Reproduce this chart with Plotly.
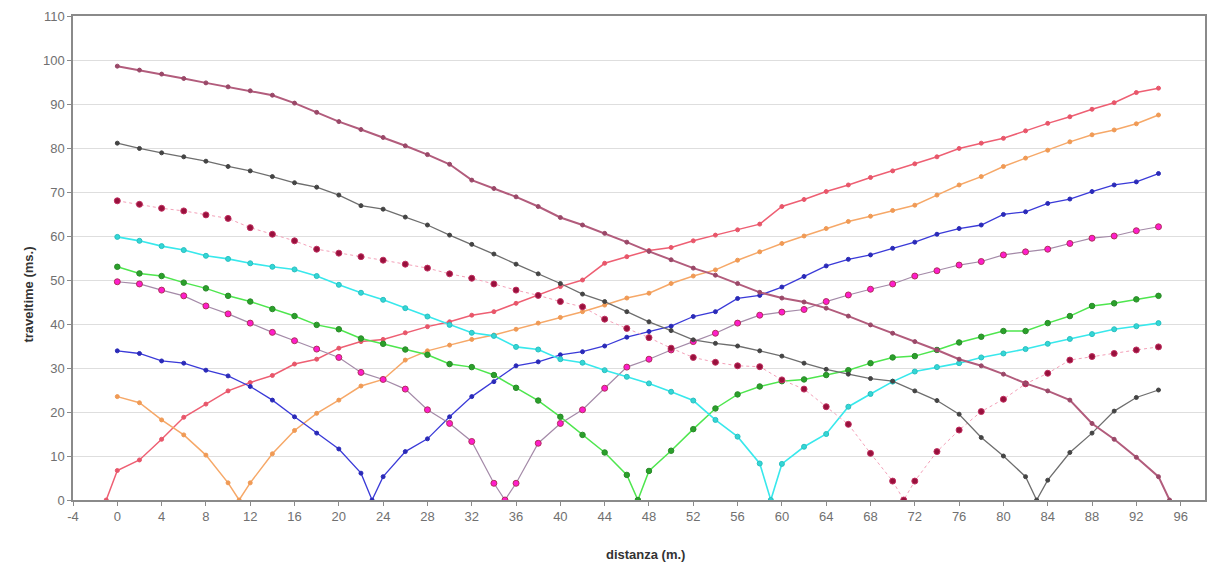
import plotly.graph_objects as go

# Geophone positions along the line (m)
geophones = list(range(0, 95, 2))

# Shot positions (m)
shots = [-1, 11, 23, 35, 47, 59, 71, 83, 95]

# Distance axis tick values and labels
x_ticks = list(range(-4, 97, 4))
x_tick_labels = [str(v) for v in x_ticks]

# First-arrival travel times (ms) at each geophone, one list per shot
tt_shot_m1 = [6.7, 9.1, 13.8, 18.8, 21.8, 24.8, 26.7, 28.3, 30.9, 32.0, 34.5, 36.0,
              36.5, 38.0, 39.4, 40.5, 42.0, 42.8, 44.7, 46.6, 48.5, 50.0, 53.8, 55.3,
              56.7, 57.4, 58.9, 60.2, 61.4, 62.7, 66.7, 68.3, 70.1, 71.6, 73.3, 74.8,
              76.4, 78.0, 79.9, 81.1, 82.2, 83.9, 85.6, 87.1, 88.8, 90.3, 92.6, 93.6]
tt_shot_11 = [23.5, 22.1, 18.2, 14.8, 10.2, 3.9, 3.9, 10.5, 15.8, 19.7, 22.7, 25.9,
              27.4, 31.8, 33.9, 35.2, 36.5, 37.5, 38.8, 40.2, 41.5, 42.8, 44.3, 45.9,
              47.0, 49.2, 50.9, 52.3, 54.5, 56.4, 58.3, 60.0, 61.7, 63.3, 64.5, 65.8,
              67.0, 69.3, 71.6, 73.5, 75.8, 77.7, 79.5, 81.4, 83.0, 84.1, 85.5, 87.5]
tt_shot_23 = [33.9, 33.3, 31.6, 31.1, 29.5, 28.2, 25.8, 22.7, 18.9, 15.2, 11.6, 6.1,
              5.3, 11.0, 13.9, 18.9, 23.5, 26.9, 30.5, 31.4, 33.0, 33.7, 35.0, 37.0,
              38.3, 39.5, 41.7, 42.8, 45.8, 46.5, 48.4, 50.8, 53.2, 54.7, 55.7, 57.2,
              58.6, 60.4, 61.7, 62.5, 64.9, 65.5, 67.4, 68.4, 70.1, 71.6, 72.3, 74.2]
tt_shot_35 = [49.6, 49.1, 47.7, 46.4, 44.1, 42.3, 40.2, 38.1, 36.2, 34.3, 32.4, 29.0,
              27.4, 25.2, 20.5, 17.4, 13.3, 3.8, 3.8, 12.9, 17.4, 20.5, 25.4, 30.2,
              32.0, 34.1, 36.0, 37.9, 40.2, 42.0, 42.7, 43.3, 45.1, 46.6, 47.9, 49.1,
              50.9, 52.1, 53.4, 54.2, 55.7, 56.4, 57.0, 58.3, 59.5, 60.0, 61.2, 62.1]
tt_shot_47 = [53.0, 51.5, 50.9, 49.4, 48.1, 46.4, 45.1, 43.4, 41.8, 39.8, 38.8, 36.7,
              35.5, 34.2, 33.0, 30.9, 30.2, 28.4, 25.5, 22.6, 18.9, 14.8, 10.8, 5.7,
              6.6, 11.2, 16.1, 20.8, 24.0, 25.8, 27.0, 27.4, 28.4, 29.5, 31.1, 32.4,
              32.7, 34.1, 35.8, 37.1, 38.4, 38.4, 40.2, 41.8, 44.1, 44.7, 45.6, 46.4]
tt_shot_59 = [59.8, 58.9, 57.7, 56.8, 55.5, 54.8, 53.8, 53.0, 52.4, 50.9, 48.9, 47.1,
              45.5, 43.6, 41.7, 39.8, 38.0, 37.3, 34.8, 34.2, 32.0, 31.2, 29.5, 28.0,
              26.5, 24.6, 22.6, 18.2, 14.4, 8.3, 8.2, 12.1, 15.0, 21.2, 24.1, 26.9,
              29.2, 30.2, 31.1, 32.4, 33.3, 34.3, 35.5, 36.6, 37.7, 38.8, 39.5, 40.2]
tt_shot_71 = [68.0, 67.2, 66.3, 65.7, 64.8, 64.0, 61.9, 60.4, 58.9, 57.0, 56.1, 55.3,
              54.5, 53.6, 52.7, 51.4, 50.4, 49.1, 47.7, 46.5, 45.1, 43.9, 41.1, 39.0,
              36.9, 34.5, 32.4, 31.3, 30.5, 30.3, 27.3, 25.2, 21.2, 17.2, 10.6, 4.3,
              4.3, 11.0, 15.9, 20.1, 22.9, 26.4, 28.8, 31.8, 32.6, 33.3, 34.1, 34.8]
tt_shot_83 = [81.1, 79.9, 78.9, 78.0, 77.0, 75.8, 74.8, 73.5, 72.1, 71.1, 69.3, 66.9,
              66.1, 64.3, 62.5, 60.2, 58.1, 55.9, 53.6, 51.4, 49.2, 46.8, 45.1, 42.8,
              40.5, 38.5, 36.4, 35.6, 35.0, 33.9, 32.7, 31.1, 29.7, 28.6, 27.6, 27.0,
              24.8, 22.6, 19.5, 14.2, 10.0, 5.3, 4.5, 10.8, 15.2, 20.2, 23.3, 25.0]
tt_shot_95 = [98.6, 97.7, 96.8, 95.8, 94.8, 93.9, 93.0, 92.0, 90.2, 88.1, 86.0, 84.2,
              82.4, 80.5, 78.5, 76.3, 72.7, 70.8, 68.9, 66.7, 64.2, 62.5, 60.6, 58.6,
              56.5, 54.6, 52.7, 51.1, 49.2, 47.2, 45.9, 45.0, 43.6, 41.8, 39.8, 37.9,
              36.0, 34.1, 32.0, 30.5, 28.6, 26.5, 24.8, 22.7, 17.4, 13.8, 9.7, 5.3]

traveltimes = [tt_shot_m1, tt_shot_11, tt_shot_23, tt_shot_35, tt_shot_47,
               tt_shot_59, tt_shot_71, tt_shot_83, tt_shot_95]

# Per-shot drawing style: line colour, line width, dash, marker colour, marker size, marker outline
styles = [
    dict(lc="#ee5f73", lw=1.5, dash="solid", mc="#e8566a", ms=4, ml="#e8566a"),
    dict(lc="#f6a868", lw=1.5, dash="solid", mc="#f09a55", ms=4, ml="#f09a55"),
    dict(lc="#3a3ad8", lw=1.3, dash="solid", mc="#2a2ab8", ms=4, ml="#2a2ab8"),
    dict(lc="#a48aa8", lw=1.2, dash="solid", mc="#ff1ccc", ms=6, ml="#b0305a"),
    dict(lc="#4ee64e", lw=1.5, dash="solid", mc="#2aa02a", ms=5.5, ml="#2a8a2a"),
    dict(lc="#38e8ec", lw=1.6, dash="solid", mc="#33d6d6", ms=5, ml="#2ac0c0"),
    dict(lc="#f4a0b8", lw=1.0, dash="dot", mc="#98103c", ms=6, ml="#c03060"),
    dict(lc="#6e6e6e", lw=1.3, dash="solid", mc="#444444", ms=4, ml="#444444"),
    dict(lc="#b25c7c", lw=2.0, dash="solid", mc="#9a4868", ms=4, ml="#9a4868"),
]

fig = go.Figure()
for shot, tt, st in zip(shots, traveltimes, styles):
    # Each branch starts (or passes through) the shot point at zero time
    pts = sorted(list(zip(geophones, tt)) + [(shot, 0.0)])
    xs = [p[0] for p in pts]
    ys = [p[1] for p in pts]
    fig.add_trace(go.Scatter(
        x=xs, y=ys, mode="lines+markers", showlegend=False,
        line=dict(color=st["lc"], width=st["lw"], dash=st["dash"]),
        marker=dict(color=st["mc"], size=st["ms"], symbol="circle",
                    line=dict(color=st["ml"], width=1)),
        name=f"shot {shot} m"))

axis_font = dict(family="Liberation Sans, Arial, sans-serif", size=13, color="#707070")

fig.update_xaxes(
    range=[-4, 98.2], tickvals=x_ticks, ticktext=x_tick_labels,
    showgrid=False, zeroline=False,
    showline=True, linecolor="#8a8a8a", linewidth=1.5, mirror=True,
    ticks="outside", ticklen=4, tickcolor="#8a8a8a", tickfont=axis_font)
fig.update_yaxes(
    range=[0, 110], dtick=10, showgrid=True, gridcolor="#dedede", gridwidth=1,
    zeroline=False, showline=True, linecolor="#8a8a8a", linewidth=1.5, mirror=True,
    ticks="outside", ticklen=4, tickcolor="#8a8a8a", tickfont=axis_font)

title_font = dict(family="Liberation Sans, Arial, sans-serif", size=13, color="#333333")

# Axis titles positioned in pixel terms relative to the plot area
plot_h = 563 - 16 - 63
plot_w = 1208 - 73 - 1
fig.add_annotation(text="<b>distanza (m.)</b>", x=(647 - 73) / plot_w, xref="paper",
                   y=-(554 - (16 + plot_h)) / plot_h, yref="paper", yanchor="middle",
                   showarrow=False, font=title_font)
fig.add_annotation(text="<b>traveltime (ms.)</b>", x=-(73 - 18) / plot_w, xref="paper",
                   y=1 - (295 - 16) / plot_h, yref="paper",
                   textangle=-90, showarrow=False, font=title_font)

fig.update_layout(
    width=1208, height=563,
    margin=dict(l=73, r=1, t=16, b=63),
    paper_bgcolor="white", plot_bgcolor="white",
)

fig.write_html("out.html")
